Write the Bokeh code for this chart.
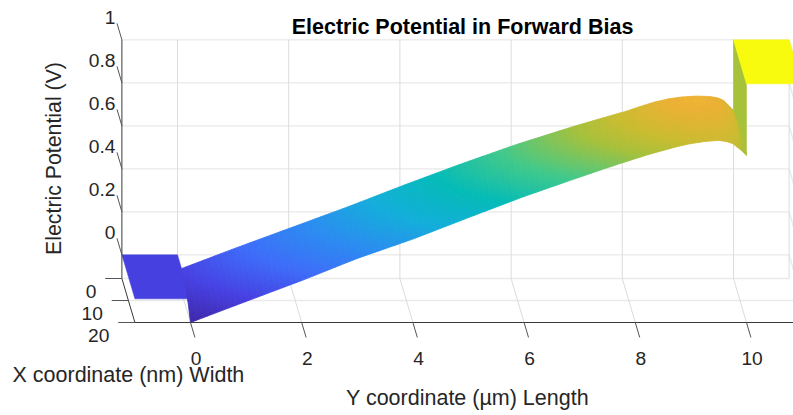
import numpy as np
from bokeh.plotting import figure
from bokeh.models import Range1d, ColumnDataSource
from bokeh.core.properties import value
from bokeh.embed import file_html
from bokeh.resources import INLINE

TITLE = "Electric Potential in Forward Bias"
X_LABEL = "X coordinate (nm) Width"
Y_LABEL = "Y coordinate (\u00b5m) Length"
Z_LABEL = "Electric Potential (V)"

y_ticks = [0, 2, 4, 6, 8, 10]
y_grid = [0, 2, 4, 6, 8, 10]
x_ticks = [0, 10, 20]
z_ticks = [0, 0.2, 0.4, 0.6, 0.8, 1]
y_lim = [-1, 11]
x_lim = [0, 20]
z_lim = [-0.11, 1]

# channel surface: length positions (um), width positions (nm), potential (V)
surf_y = [0, 1, 2, 3, 4, 5, 6, 7, 7.5, 8, 8.25, 8.5, 8.75, 9, 9.25, 9.5, 9.65, 9.75, 9.9, 10]
surf_x = [6.5, 10, 13.5, 17, 20]
surf_z = [
    [0.003, -0.005, -0.028, -0.066, -0.110],
    [0.101, 0.094, 0.070, 0.032, -0.012],
    [0.196, 0.189, 0.166, 0.129, 0.085],
    [0.291, 0.284, 0.262, 0.226, 0.188],
    [0.391, 0.385, 0.366, 0.330, 0.278],
    [0.487, 0.481, 0.460, 0.426, 0.378],
    [0.578, 0.574, 0.554, 0.520, 0.476],
    [0.660, 0.657, 0.640, 0.608, 0.566],
    [0.698, 0.697, 0.680, 0.648, 0.610],
    [0.735, 0.737, 0.720, 0.690, 0.652],
    [0.757, 0.760, 0.742, 0.710, 0.672],
    [0.777, 0.782, 0.762, 0.730, 0.690],
    [0.792, 0.800, 0.777, 0.745, 0.708],
    [0.801, 0.812, 0.787, 0.757, 0.722],
    [0.805, 0.815, 0.792, 0.762, 0.732],
    [0.803, 0.805, 0.785, 0.760, 0.737],
    [0.796, 0.797, 0.778, 0.754, 0.731],
    [0.784, 0.785, 0.768, 0.747, 0.722],
    [0.745, 0.750, 0.742, 0.722, 0.692],
    [0.682, 0.680, 0.680, 0.675, 0.667],
]

# contact plateaus and the step at the drain end
source_y = [-1, 0]
source_z = 0.0
drain_y = [10, 11]
drain_z = 1.0
wall_y = 10
wall_top = [1.0, 1.0]
wall_bottom = [0.662, 0.667]
wall_color = "#A6C23A"

cmap_t = [0, 0.1, 0.2, 0.3, 0.4, 0.5, 0.6, 0.7, 0.75, 0.82, 0.9, 1]
cmap_c = ["#3E26A8", "#4640E2", "#3D6CF9", "#2A8CF0", "#12AEDA", "#03BBB7",
          "#40C98A", "#A6C03A", "#C8BC30", "#EBB033", "#FBC428", "#F9FB0E"]

# view: oblique projection of (length, width, potential) to page pixels
def px(y, x):
    return 177 + 55.6 * np.asarray(y, float) + 0.65 * np.asarray(x, float)

def py(x, z):
    return 278 + 2.2 * np.asarray(x, float) - 215 * (np.asarray(z, float) - z_lim[0])

def color(z):
    t = (z - z_lim[0]) / (z_lim[1] - z_lim[0])
    rgb = np.array([[int(c[i:i + 2], 16) for i in (1, 3, 5)] for c in cmap_c], float)
    ch = [np.interp(t, cmap_t, rgb[:, k]) for k in range(3)]
    return "#%02x%02x%02x" % tuple(int(round(float(v))) for v in ch)

p = figure(width=793, height=415, output_backend="svg", toolbar_location=None,
           x_range=Range1d(0, 793), y_range=Range1d(415, 0), min_border=0,
           outline_line_color=None)
p.axis.visible = False
p.grid.visible = False

H_GRID = dict(line_color="#E9E9E9", line_width=1.4)
V_GRID = dict(line_color="#DCDCDC", line_width=1.0)
AX = dict(line_color="#3A3A3A", line_width=1.0)

def seg(ya, xa, za, yb, xb, zb, **kw):
    p.line([float(px(ya, xa)), float(px(yb, xb))],
           [float(py(xa, za)), float(py(xb, zb))], **kw)

# back wall and floor grid
for z in z_ticks:
    seg(y_lim[0], 0, z, y_lim[1], 0, z, **H_GRID)
    seg(y_lim[1], 0, z, y_lim[1], x_lim[1], z, **H_GRID)
for x in x_ticks[:2]:
    seg(y_lim[0], x, z_lim[0], y_lim[1], x, z_lim[0], **H_GRID)
for y in y_grid:
    seg(y, 0, z_lim[1], y, 0, z_lim[0], **V_GRID)
    seg(y, 0, z_lim[0], y, x_lim[1], z_lim[0], **V_GRID)
seg(y_lim[1], 0, z_lim[1], y_lim[1], 0, z_lim[0], **V_GRID)

# flat plateaus and step
def flat(ys, z):
    xs_ = [ys[0], ys[1], ys[1], ys[0]]
    ns_ = [x_lim[0], x_lim[0], x_lim[1], x_lim[1]]
    zz = [z] * 4
    c = color(z)
    p.patch([float(px(a, b)) for a, b in zip(xs_, ns_)],
            [float(py(b, d)) for b, d in zip(ns_, zz)],
            fill_color=c, line_color=c, line_width=0.5)

flat(source_y, source_z)
wn = [x_lim[0], x_lim[1], x_lim[1], x_lim[0]]
wz = [wall_top[0], wall_top[1], wall_bottom[1], wall_bottom[0]]
p.patch([float(px(wall_y, n)) for n in wn], [float(py(n, z)) for n, z in zip(wn, wz)],
        fill_color=wall_color, line_color=wall_color, line_width=0.5)
flat(drain_y, drain_z)

# interpolated shading of the surface (drawing only; the table above is the data)
Z = np.array(surf_z)
xs, ys, cs = [], [], []
mi, mj = 10, 5
for i in range(len(surf_y) - 1):
    for j in range(len(surf_x) - 1):
        y0, y1 = surf_y[i], surf_y[i + 1]
        x0, x1 = surf_x[j], surf_x[j + 1]
        k = max(2, int(np.ceil(mi * (y1 - y0))))
        for a in range(k):
            for b in range(mj):
                ua = np.array([a, a + 1, a + 1, a]) / k
                ub = np.array([b, b, b + 1, b + 1]) / mj
                yy = y0 + ua * (y1 - y0)
                nn = x0 + ub * (x1 - x0)
                zz = ((1 - ua) * (1 - ub) * Z[i, j] + ua * (1 - ub) * Z[i + 1, j]
                      + (1 - ua) * ub * Z[i, j + 1] + ua * ub * Z[i + 1, j + 1])
                xs.append(px(yy, nn).tolist())
                ys.append(py(nn, zz).tolist())
                cs.append(color(float(zz.mean())))
src = ColumnDataSource(dict(xs=xs, ys=ys, c=cs))
p.patches("xs", "ys", source=src, fill_color="c", line_color="c", line_width=0.8)

# axes box
seg(y_lim[0], 0, z_lim[1], y_lim[0], 0, z_lim[0], **AX)
seg(y_lim[0], 0, z_lim[0], y_lim[0], x_lim[1], z_lim[0], **AX)
seg(y_lim[0], x_lim[1], z_lim[0], y_lim[1], x_lim[1], z_lim[0], **AX)

# ticks
TICK = dict(line_color="#555555", line_width=1.0)
for z in z_ticks:
    seg(y_lim[0], 0, z, y_lim[0], -7.5, z, **TICK)
for x in x_ticks:
    seg(y_lim[0], x, z_lim[0], y_lim[0] - 0.3, x, z_lim[0], **TICK)
for y in y_ticks:
    seg(y, x_lim[1], z_lim[0], y, x_lim[1] + 6.8, z_lim[0], **TICK)

FONT = value("Liberation Sans")
TXT = "#262626"

def label(x, y, s, size, align="center", angle=0, style="normal", col=TXT):
    p.text([x], [y], text=[s], text_font=FONT, text_font_size=f"{size}px",
           text_align=align, text_baseline="middle", angle=angle,
           text_color=col, text_font_style=style)

for z in z_ticks:
    label(115, float(py(0, z)) - 22, f"{z:g}", 19.2, "right")
for x in x_ticks:
    label(float(px(y_lim[0], x)) - 25.5, float(py(x, z_lim[0])) + 13, f"{x:g}", 19.2, "right")
for y in y_ticks:
    label(float(px(y, x_lim[1])) + 5.6, 358, f"{y:g}", 19.2)

label(462, 26, TITLE, 21.5, style="bold", col="#000000")
label(12, 374, X_LABEL, 21.5, "left")
label(467, 397, Y_LABEL, 21.5)
label(53, 158, Z_LABEL, 21.3, angle=np.pi / 2)

open("out.html", "w").write(file_html(p, INLINE))
